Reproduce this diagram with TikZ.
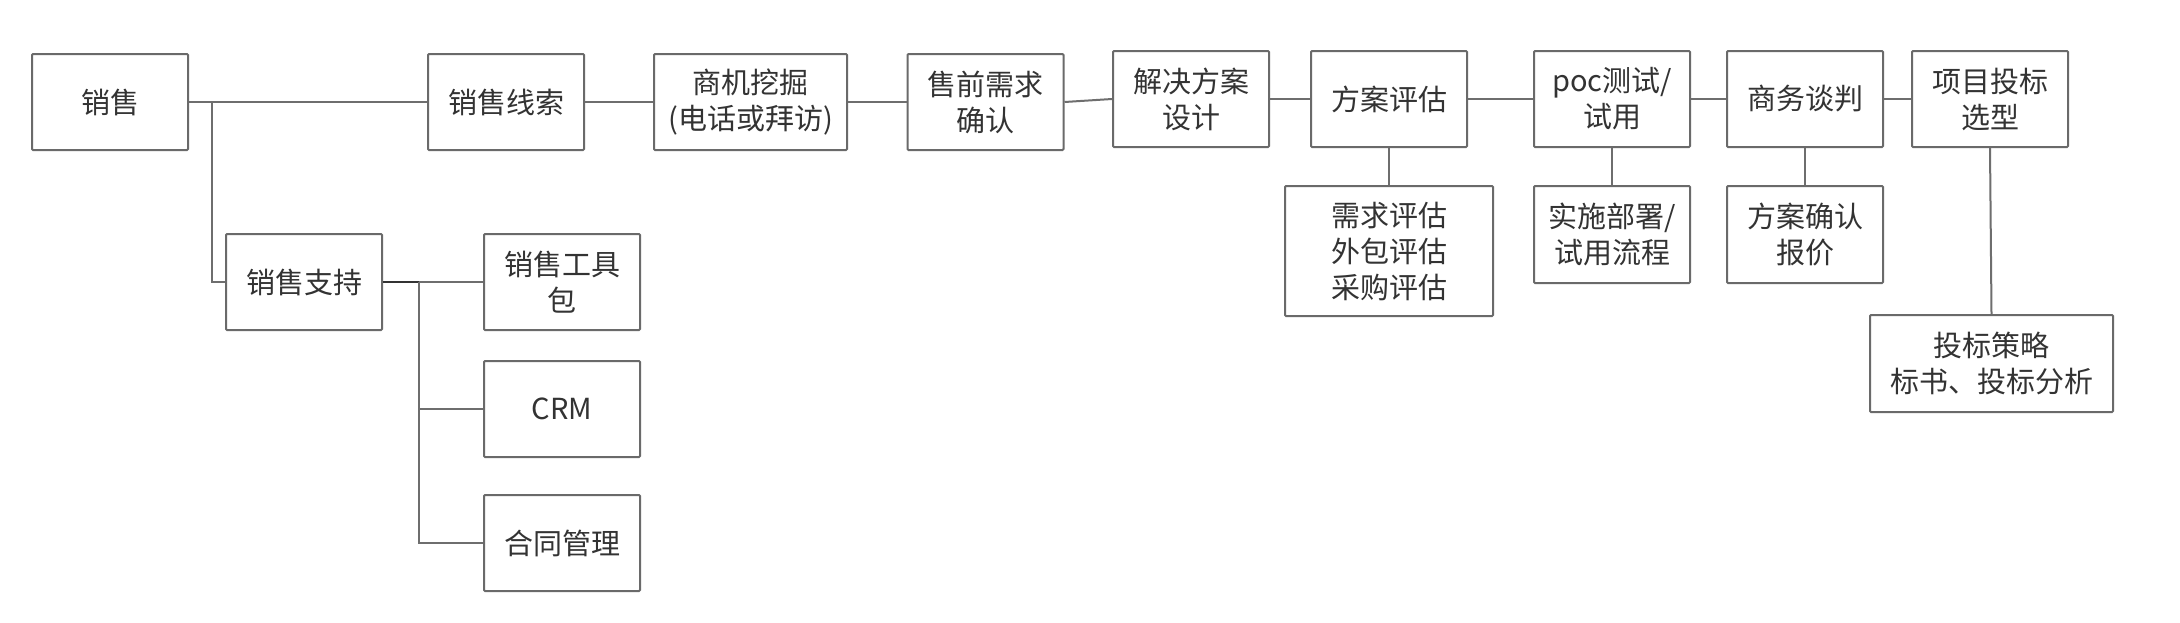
\documentclass[tikz,border=0pt]{standalone}
\usepackage{fontspec}
\setmainfont{Noto Sans CJK SC}
\definecolor{boxc}{HTML}{6A6A6A}
\definecolor{txtc}{HTML}{333333}
\definecolor{linec}{HTML}{6E6E6E}
\begin{document}
\begin{tikzpicture}[x=1pt,y=-1pt,
  box/.style={draw=boxc, line width=2pt, fill=white, text=txtc, align=center,
    inner sep=0pt, rounded corners=1pt, minimum width=156pt, minimum height=96pt,
    font=\fontsize{29}{36}\selectfont},
  ln/.style={draw=linec, line width=2pt}]
\useasboundingbox[fill=white] (0,0) rectangle (2180,622);
% top row
\node[box] (xs) at (110,102) {销售};
\node[box] (xsxs) at (506,102) {销售线索};
\node[box, minimum width=193pt] (sjwj) at (750.5,102) {商机挖掘\\(电话或拜访)};
\node[box] (sqxq) at (985.5,102) {售前需求\\确认};
\node[box] (jjfa) at (1191,99) {解决方案\\设计};
\node[box] (fapg) at (1389,99) {方案评估};
\node[box] (poc) at (1612,99) {poc测试/\\试用};
\node[box] (swtp) at (1805,99) {商务谈判};
\node[box] (xmtb) at (1990,99) {项目投标\\选型};
% lower right
\node[box, minimum width=208pt, minimum height=130pt] (xqpg) at (1389,251) {需求评估\\外包评估\\采购评估};
\node[box, minimum height=97pt] (ssbs) at (1612,234.5) {实施部署/\\试用流程};
\node[box, minimum height=97pt] (faqr) at (1805,234.5) {方案确认\\报价};
\node[box, minimum width=243pt, minimum height=97pt] (tbcl) at (1991.5,363.5) {投标策略\\标书、投标分析};
% left lower
\node[box] (xszc) at (304,282) {销售支持};
\node[box] (xsgj) at (562,282) {销售工具\\包};
\node[box] (crm) at (562,409) {CRM};
\node[box] (htgl) at (562,543) {合同管理};
% connectors
\coordinate (b1) at (212,102);
\coordinate (b2) at (419,282);
\draw[ln] (xs.east) -- (xsxs.west);
\draw[ln] (b1) |- (xszc.west);
\draw[ln] (xsxs.east) -- (sjwj.west);
\draw[ln] (sjwj.east) -- (sqxq.west);
\draw[ln] (sqxq.east) -- (jjfa.west);
\draw[ln] (jjfa.east) -- (fapg.west);
\draw[ln] (fapg.east) -- (poc.west);
\draw[ln] (poc.east) -- (swtp.west);
\draw[ln] (swtp.east) -- (xmtb.west);
\draw[ln] (fapg.south) -- (xqpg.north);
\draw[ln] (poc.south) -- (ssbs.north);
\draw[ln] (swtp.south) -- (faqr.north);
\draw[ln] (xmtb.south) -- (tbcl.north);
\draw[ln, line width=2.6pt, draw=txtc] (xszc.east) -- (b2);
\draw[ln] (b2) -- (xsgj.west);
\draw[ln] (b2) |- (crm.west);
\draw[ln] (b2) |- (htgl.west);
\end{tikzpicture}
\end{document}
